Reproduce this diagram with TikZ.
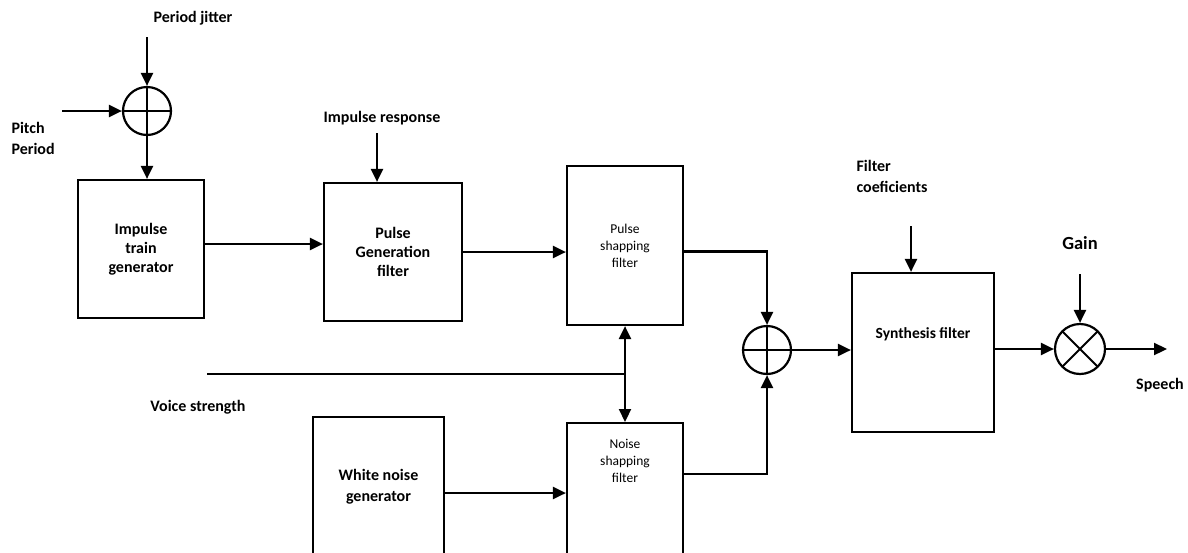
\documentclass[tikz,border=0pt]{standalone}
\usepackage{fontspec}
\setmainfont{Carlito}
\usetikzlibrary{arrows.meta,positioning}
\tikzset{
    block-box/.style = {draw, rectangle, line width=2.2pt, inner sep=0pt, align=center, font=\fontsize{16}{19}\selectfont\bfseries},
    sum-node/.style = {draw, circle, line width=2.2pt, minimum size=48pt, inner sep=0pt},
    plus-sign/.style = {sum-node, path picture={\draw[line width=2pt] (path picture bounding box.north) -- (path picture bounding box.south) (path picture bounding box.west) -- (path picture bounding box.east);}},
    cross-sign/.style = {sum-node, path picture={\draw[line width=2pt] (path picture bounding box.north west) -- (path picture bounding box.south east) (path picture bounding box.south west) -- (path picture bounding box.north east);}},
    small-text/.style = {align=center, font=\fontsize{13.5}{17}\selectfont},
    label-text/.style = {align=left, font=\fontsize{16}{21}\selectfont\bfseries},
    flow/.style = {line width=2.2pt, -{Triangle[length=13pt,width=12pt]}},
}

\begin{document}
\begin{tikzpicture}[x=1pt, y=-1pt]
\clip (0,0) rectangle (1188,552);
\fill[white] (0,0) rectangle (1188,552);

% blocks
\node[plus-sign] (pitch-sum) at (147,111) {};
\node[block-box, minimum width=126pt, minimum height=138pt] (impulse-gen) at (141,249) {Impulse\\train\\generator};
\node[block-box, minimum width=138pt, minimum height=138pt] (pulse-gen) at (393,252) {Pulse\\Generation\\filter};
\node[block-box, minimum width=116pt, minimum height=159pt, small-text] (pulse-shape) at (625,245.5) {Pulse\\shapping\\filter};
\node[block-box, minimum width=131pt, minimum height=140pt, font=\fontsize{16}{21}\selectfont\bfseries] (noise-gen) at (378.5,487) {White noise\\generator};
\node[block-box, minimum width=116pt, minimum height=160pt, anchor=north] (noise-shape) at (625,422) {};
\node[small-text, below=14pt of noise-shape.north] (noise-text) {Noise\\shapping\\filter};
\node[plus-sign] (mix-sum) at (767,350) {};
\node[block-box, minimum width=142pt, minimum height=159pt] (synth) at (923,352.5) {};
\node[label-text, font=\fontsize{15.5}{20}\selectfont\bfseries] (synth-text) at (923,334) {Synthesis filter};
\node[cross-sign, minimum size=50pt] (gain-mult) at (1080,349) {};

% labels
\node[label-text] (jitter-label) at (193,18) {Period jitter};
\node[label-text, anchor=west] (pitch-label) at (8,138) {Pitch\\Period};
\node[label-text] (response-label) at (382,118) {Impulse response};
\node[label-text] (voice-label) at (198,407) {Voice strength};
\node[label-text, anchor=west] (coef-label) at (853,176) {Filter\\coeficients};
\node[label-text, font=\fontsize{18.5}{22}\selectfont\bfseries] (gain-label) at (1080,243) {Gain};
\node[label-text] (speech-label) at (1160,385) {Speech};

% free ends
\coordinate (jitter-in) at (147,37);
\coordinate (pitch-in) at (62,111);
\coordinate (response-in) at (377,133);
\coordinate (voice-in) at (207,374);
\coordinate (voice-tap) at (625,374);
\coordinate (coef-in) at (911,226);
\coordinate (gain-in) at (1080,274);
\coordinate (speech-out) at (1167,349);

% connectors
\draw[flow] (jitter-in) -- (pitch-sum.north);
\draw[flow] (pitch-in) -- (pitch-sum.west);
\draw[flow] (pitch-sum.south) -- (impulse-gen.north -| pitch-sum.south);
\draw[flow] ([yshift=5pt]impulse-gen.east) -- ([yshift=5pt]impulse-gen.east -| pulse-gen.west);
\draw[flow] (response-in) -- (response-in |- pulse-gen.north);
\draw[flow] (pulse-gen.east) -- (pulse-gen.east -| pulse-shape.west);
\draw[flow] ([yshift=-6pt]pulse-shape.east) -| (mix-sum.north);
\draw[flow] ([yshift=-52pt]noise-shape.north east) -| (mix-sum.south);
\draw[line width=2.2pt] (voice-in) -- (voice-tap);
\draw[line width=2.2pt, {Triangle[length=13pt,width=12pt]}-{Triangle[length=13pt,width=12pt]}] (pulse-shape.south) -- (noise-shape.north);
\draw[flow] ([yshift=-6pt]noise-gen.east) -- ([yshift=-6pt]noise-gen.east -| noise-shape.west);
\draw[flow] (mix-sum.east) -- (mix-sum.east -| synth.west);
\draw[flow] (coef-in) -- (coef-in |- synth.north);
\draw[flow] (gain-mult.west -| synth.east) -- (gain-mult.west);
\draw[flow] (gain-in) -- (gain-mult.north);
\draw[flow] (gain-mult.east) -- (speech-out);
\end{tikzpicture}
\end{document}
